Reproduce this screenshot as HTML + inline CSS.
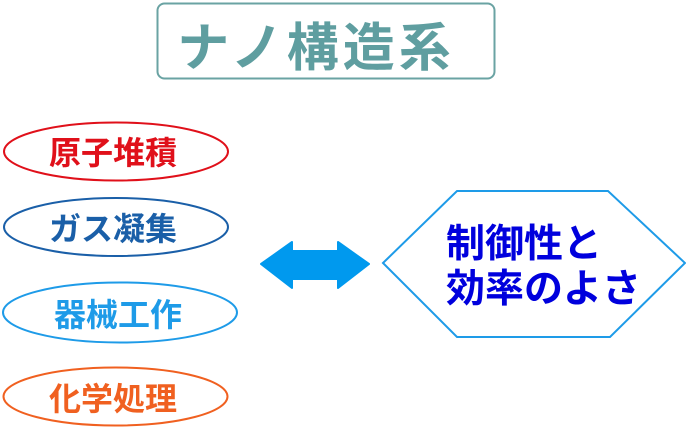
<!DOCTYPE html>
<html><head><meta charset="utf-8"><style>
html,body{margin:0;padding:0;background:#fff;}
body{width:686px;height:427px;position:relative;overflow:hidden;font-family:"Liberation Sans","Noto Sans CJK JP",sans-serif;}
</style></head><body>
<svg width="686" height="427" viewBox="0 0 686 427" xmlns="http://www.w3.org/2000/svg" style="position:absolute;left:0;top:0">
<rect x="157.5" y="3.5" width="337" height="75" rx="7" fill="#fff" stroke="#6aa3a3" stroke-width="2"/>
<text x="316" y="66" font-size="52" font-weight="bold" fill="#5f9ea0" text-anchor="middle" font-family="Noto Sans CJK JP, sans-serif" letter-spacing="4">ナノ構造系</text>

<ellipse cx="116" cy="151.5" rx="112" ry="29" fill="none" stroke="#e0101a" stroke-width="2"/>
<text x="113" y="164" font-size="32" font-weight="bold" fill="#e0101a" text-anchor="middle" font-family="Noto Sans CJK JP, sans-serif">原子堆積</text>

<ellipse cx="116" cy="227" rx="112" ry="29" fill="none" stroke="#1a5fa8" stroke-width="2"/>
<text x="113" y="240" font-size="32" font-weight="bold" fill="#1a5fa8" text-anchor="middle" font-family="Noto Sans CJK JP, sans-serif">ガス凝集</text>

<ellipse cx="120" cy="312.5" rx="117" ry="30" fill="none" stroke="#1e9be8" stroke-width="2"/>
<text x="118" y="326" font-size="32" font-weight="bold" fill="#1e9be8" text-anchor="middle" font-family="Noto Sans CJK JP, sans-serif">器械工作</text>

<ellipse cx="115.5" cy="396.5" rx="112" ry="29" fill="none" stroke="#f06020" stroke-width="2"/>
<text x="113" y="410" font-size="32" font-weight="bold" fill="#f06020" text-anchor="middle" font-family="Noto Sans CJK JP, sans-serif">化学処理</text>

<polygon points="261,264 292,242 292,251 338,251 338,242 369,264 338,288 338,279 292,279 292,288" fill="#0099ee" stroke="#0099ee" stroke-width="2" stroke-linejoin="round"/>

<polygon points="383,263 457,191 608,191 685,263 610,337 457,337" fill="#fff" stroke="#1e9be8" stroke-width="2"/>
<text x="446" y="257" font-size="39" font-weight="bold" fill="#0000dd" font-family="Noto Sans CJK JP, sans-serif">制御性と</text>
<text x="446" y="302" font-size="39" font-weight="bold" fill="#0000dd" font-family="Noto Sans CJK JP, sans-serif">効率のよさ</text>
</svg>
</body></html>
